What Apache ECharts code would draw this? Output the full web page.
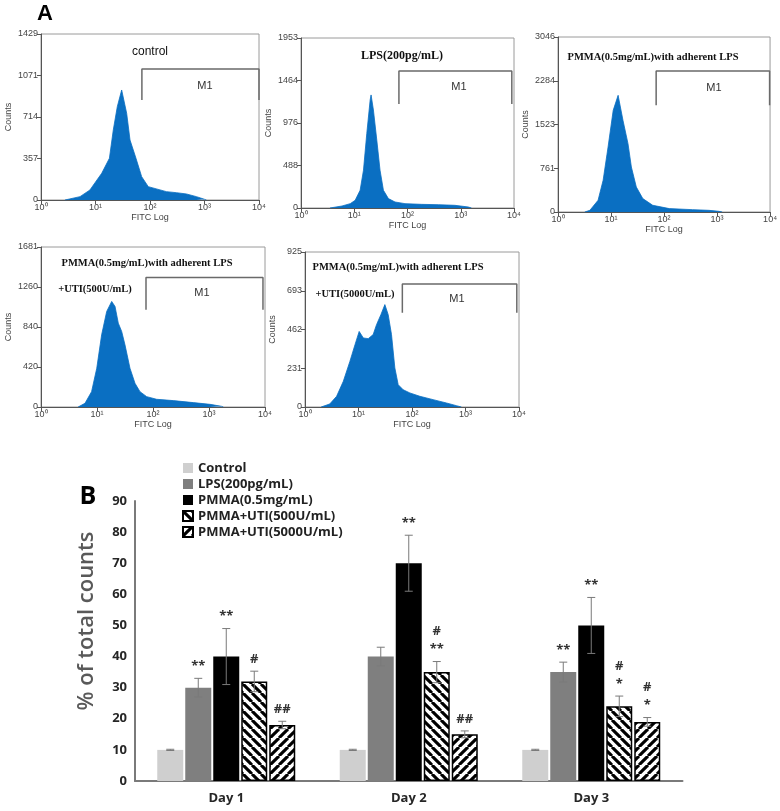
<!DOCTYPE html>
<html><head><meta charset="utf-8">
<script src="https://cdn.jsdelivr.net/npm/echarts@6/dist/echarts.min.js"></script>
<style>html,body{margin:0;padding:0;background:#fff}#c{width:780px;height:811px}</style>
</head><body><div id="c"></div>
<script>
// ---------- Panel A: flow cytometry histograms, [FITC intensity, counts] ----------
const histControl = [[2.75,0],[5.2,29],[7.9,86],[9.8,149],[13,230],[18,359],[21.2,603],[25.1,803],[30.2,947],[37.3,746],[43,516],[55.3,359],[70.3,201],[93,115],[200,72],[305,63],[466,52],[711,29],[1000,6],[1084,0]];
const histLPS = [[3.5,0],[5.9,23],[8.4,50],[10.4,88],[12.9,204],[14.9,434],[17.2,857],[19.9,1242],[20.7,1299],[22.9,1126],[26.5,780],[30.5,434],[35.3,204],[43.8,108],[58.3,69],[89.8,50],[184,42],[378,38],[774,31],[1377,12],[1589,0]];
const histPMMA = [[3.2,0],[4.0,30],[5.7,204],[7.1,552],[8.8,1131],[11,1770],[13.6,2031],[16.8,1596],[20.9,1190],[24.2,783],[30,435],[39.8,233],[61.2,117],[126,59],[343,41],[704,29],[1081,12],[1250,0]];
const histUTI500 = [[4.6,0],[6.1,39],[8.0,161],[9.9,407],[12.1,758],[14.9,1004],[18.3,1109],[21,1056],[24,881],[27.6,793],[31.6,653],[38.8,407],[47.7,249],[58.6,161],[77.1,109],[116,81],[231,67],[525,46],[1042,28],[1683,7],[1803,0]];
const histUTI5000 = [[2.0,0],[2.9,18],[3.9,64],[5.2,153],[6.9,272],[8.6,372],[10.3,451],[12.3,412],[15.2,408],[18.8,432],[21.7,491],[26.2,551],[31.1,611],[35.9,551],[41.4,432],[47.8,233],[55.2,133],[68.4,103],[91.2,84],[140,64],[248,44],[441,24],[676,8],[839,0]];
const histTitles = ['control','LPS(200pg/mL)','PMMA(0.5mg/mL)with adherent LPS','PMMA(0.5mg/mL)with adherent LPS','PMMA(0.5mg/mL)with adherent LPS'];
const histSubTitles = ['','','','+UTI(500U/mL)','+UTI(5000U/mL)'];
const histYMax = [1429,1953,3046,1681,925];
const histYTicks = [['0','357','714','1071','1429'],['0','488','976','1464','1953'],['0','761','1523','2284','3046'],['0','420','840','1260','1681'],['0','231','462','693','925']];
const gateX = [[71,10000],[69,9100],[71,9800],[75,9200],[66,9100]];
const gateY = [[861,1128],[1195,1574],[1857,2454],[1021,1361],[563,734]];
const gateName = 'M1';

// ---------- Panel B: bar chart ----------
const categories = ['Day 1','Day 2','Day 3'];
const seriesNames = ['Control','LPS(200pg/mL)','PMMA(0.5mg/mL)','PMMA+UTI(500U/mL)','PMMA+UTI(5000U/mL)'];
const control = [10,10,10];
const controlErr = [0.2,0.2,0.2];
const lps = [30,40,35];
const lpsErr = [3,3,3.2];
const pmma = [40,70,50];
const pmmaErr = [9,9,9];
const uti500 = [32,35,24];
const uti500Err = [3.3,3.4,3.3];
const uti5000 = [18,15,19];
const uti5000Err = [1.2,1.1,1.4];
const controlSig = ['','',''];
const lpsSig = ['**','','**'];
const pmmaSig = ['**','**','**'];
const uti500Sig = ['#','#\n**','#\n*'];
const uti5000Sig = ['##','##','#\n*'];
const yTicksB = [0,10,20,30,40,50,60,70,80,90];
const yTitleB = '% of total counts';

// ---------- layout / style ----------
const histGrids = [
  {left:41, top:34, width:218, height:166},
  {left:301, top:38, width:213, height:170},
  {left:558, top:37, width:214, height:175},
  {left:41, top:247, width:224, height:160},
  {left:305, top:252, width:214, height:155}
];
const histData = [histControl, histLPS, histPMMA, histUTI500, histUTI5000];
const sup = ['\u2070','\u00b9','\u00b2','\u00b3','\u2074'];
const blue = '#0a6fc2';
const serif = '"Liberation Serif", "DejaVu Serif", serif';
const sans = '"Liberation Sans", Arial, sans-serif';
const bFont = '"Open Sans", "Noto Sans", sans-serif';

function stripe(dir){
  const s = 9, c = document.createElement('canvas');
  c.width = c.height = s;
  const g = c.getContext('2d');
  g.fillStyle = '#fff'; g.fillRect(0,0,s,s);
  g.strokeStyle = '#000'; g.lineWidth = 3.1;
  for (const o of [-s,0,s]) {
    g.beginPath();
    if (dir > 0) { g.moveTo(o,0); g.lineTo(o+s,s); }
    else { g.moveTo(o,s); g.lineTo(o+s,0); }
    g.stroke();
  }
  return c;
}

const grids = [], xAxes = [], yAxes = [], series = [], graphics = [];
histGrids.forEach((gr, i) => {
  grids.push(Object.assign({show:true, borderColor:'#9a9a9a', borderWidth:1, backgroundColor:'#fff'}, gr));
  xAxes.push({
    gridIndex:i, type:'log', logBase:10, min:1, max:10000,
    name:'FITC Log', nameLocation:'middle', nameGap:13,
    nameTextStyle:{fontFamily:sans, fontSize:9, color:'#444'},
    axisLine:{lineStyle:{color:'#555', width:1}},
    axisTick:{show:true, length:4, lineStyle:{color:'#555'}},
    minorTick:{show:false},
    splitLine:{show:false},
    axisLabel:{fontFamily:sans, fontSize:9, color:'#444', margin:3,
      formatter:v => '10' + sup[Math.round(Math.log10(v))]}
  });
  const ticks = histYTicks[i];
  yAxes.push({
    gridIndex:i, type:'value', min:0, max:histYMax[i], interval:histYMax[i]/4,
    name:'Counts', nameLocation:'middle', nameGap:28,
    nameTextStyle:{fontFamily:sans, fontSize:9, color:'#444'},
    axisLine:{show:true, lineStyle:{color:'#555', width:1}},
    axisTick:{show:true, length:4, lineStyle:{color:'#555'}},
    splitLine:{show:false},
    axisLabel:{fontFamily:sans, fontSize:9, color:'#444', margin:3,
      formatter:(v, idx) => ticks[idx]}
  });
  series.push({
    type:'line', xAxisIndex:i, yAxisIndex:i, data:histData[i], symbol:'none', silent:true,
    lineStyle:{color:blue, width:0.8}, areaStyle:{color:blue, opacity:1}, z:2
  });
  series.push({
    type:'line', xAxisIndex:i, yAxisIndex:i, symbol:'none', silent:true,
    data:[[gateX[i][0],gateY[i][0]],[gateX[i][0],gateY[i][1]],[gateX[i][1],gateY[i][1]],[gateX[i][1],gateY[i][0]]],
    lineStyle:{color:'#6a6a6a', width:1.5}, z:3
  });
});

// titles / labels for histograms
const titlePos = [[150,52],[402,56],[653,57],[147,263],[398,267]];
const subPos = [null,null,null,[95,289],[355,294]];
const m1Pos = [[205,86],[459,87],[714,88],[202,293],[457,299]];
titlePos.forEach((p,i) => {
  graphics.push({type:'text', x:p[0], y:p[1], style:{text:histTitles[i], align:'center', verticalAlign:'middle',
    font: i===0 ? ('12px ' + sans) : ('bold ' + (i===1?12:10.5) + 'px ' + serif), fill:'#111'}});
  if (subPos[i]) graphics.push({type:'text', x:subPos[i][0], y:subPos[i][1], style:{text:histSubTitles[i], align:'center', verticalAlign:'middle',
    font:'bold 10.5px ' + serif, fill:'#111'}});
  graphics.push({type:'text', x:m1Pos[i][0], y:m1Pos[i][1], style:{text:gateName, align:'center', verticalAlign:'middle',
    font:'11px ' + sans, fill:'#333'}});
});
graphics.push({type:'text', x:45, y:14, style:{text:'A', align:'center', verticalAlign:'middle', font:'bold 22px ' + sans, fill:'#000'}});
graphics.push({type:'text', x:88, y:497, style:{text:'B', align:'center', verticalAlign:'middle', font:'bold 25px ' + bFont, fill:'#000'}});
graphics.push({type:'text', x:87, y:621, rotation:Math.PI/2, style:{text:yTitleB, align:'center', verticalAlign:'middle',
  font:'600 22px ' + bFont, fill:'#595959'}});

// ---------- Panel B ----------
const bi = histGrids.length;
grids.push({left:135, top:501, width:547.5, height:280});
xAxes.push({gridIndex:bi, type:'category', data:categories,
  axisLine:{lineStyle:{color:'#7a7a7a', width:2}}, axisTick:{show:false},
  axisLabel:{fontFamily:bFont, fontWeight:'bold', fontSize:13, color:'#262626', margin:11}});
yAxes.push({gridIndex:bi, type:'value', min:0, max:90, interval:10,
  axisLine:{show:true, lineStyle:{color:'#7a7a7a', width:2}}, axisTick:{show:false},
  splitLine:{show:false},
  axisLabel:{fontFamily:bFont, fontWeight:'bold', fontSize:13, color:'#262626', margin:8,
    formatter:(v, idx) => String(yTicksB[idx])}});

const BAR_W = 26, BAR_GAP = 2;
const barVals = [control, lps, pmma, uti500, uti5000];
const barErrs = [controlErr, lpsErr, pmmaErr, uti500Err, uti5000Err];
const barSigs = [controlSig, lpsSig, pmmaSig, uti500Sig, uti5000Sig];
const barStyles = [
  {color:'#cfcfcf'},
  {color:'#7f7f7f'},
  {color:'#000'},
  {color:{image:stripe(1), repeat:'repeat'}, borderColor:'#000', borderWidth:1.5},
  {color:{image:stripe(-1), repeat:'repeat'}, borderColor:'#000', borderWidth:1.5}
];
barVals.forEach((vals, k) => {
  series.push({type:'bar', name:seriesNames[k], xAxisIndex:bi, yAxisIndex:bi, data:vals,
    barWidth:BAR_W, barGap:(BAR_GAP/BAR_W*100)+'%', itemStyle:barStyles[k], z:2});
});
barVals.forEach((vals, k) => {
  series.push({type:'custom', xAxisIndex:bi, yAxisIndex:bi, silent:true, z:5,
    data: vals.map((v, c) => [c, v, barErrs[k][c]]),
    renderItem:(params, api) => {
      const c = api.value(0), v = api.value(1), e = api.value(2);
      const sig = barSigs[k][c];
      const x = api.coord([c, v])[0] + (k - 2) * (BAR_W + BAR_GAP);
      const top = api.coord([c, v + e])[1], bot = api.coord([c, v - e])[1];
      const cap = 4, ls = {stroke:'#7a7a7a', lineWidth:1};
      const children = [
        {type:'line', shape:{x1:x, y1:top, x2:x, y2:bot}, style:ls},
        {type:'line', shape:{x1:x-cap, y1:top, x2:x+cap, y2:top}, style:ls},
        {type:'line', shape:{x1:x-cap, y1:bot, x2:x+cap, y2:bot}, style:ls}
      ];
      if (sig) children.push({type:'text', x:x, y:top - 3, style:{text:sig, align:'center', verticalAlign:'bottom',
        font:'bold 13px ' + bFont, lineHeight:18, fill:'#333'}});
      return {type:'group', children};
    }});
});

const chart = echarts.init(document.getElementById('c'), null, {renderer:'canvas'});
chart.setOption({
  animation:false,
  backgroundColor:'#fff',
  grid:grids, xAxis:xAxes, yAxis:yAxes, series:series, graphic:graphics,
  legend:{data:seriesNames, orient:'vertical', left:182, top:460, padding:0, itemWidth:10, itemHeight:10, itemGap:0,
    icon:'rect', selectedMode:false,
    textStyle:{fontFamily:bFont, fontWeight:'bold', fontSize:13, color:'#222', lineHeight:16}}
});
</script></body></html>
